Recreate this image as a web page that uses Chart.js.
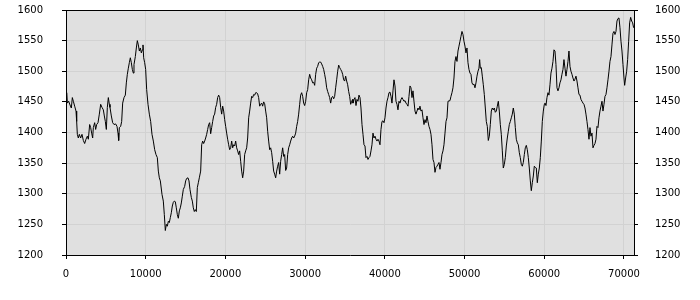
<!DOCTYPE html>
<html>
<head>
<meta charset="utf-8">
<script src="https://cdn.jsdelivr.net/npm/chart.js@4"></script>
<style>
  html, body { margin: 0; padding: 0; background: #fff; }
</style>
</head>
<body>
<canvas id="chart" width="700" height="300"></canvas>
<script>
// series
const xs = [
  0, 84, 167, 334, 502, 669, 795, 920, 1087, 1255, 1338, 1422, 1547, 1673, 1840, 2007, 2175, 2342, 2509, 2676,
  2802, 2969, 3095, 3220, 3346, 3429, 3597, 3722, 3847, 4015, 4182, 4349, 4516, 4684, 4809, 4935, 5060, 5186, 5311, 5437,
  5520, 5687, 5855, 6022, 6231, 6398, 6524, 6607, 6691, 6858, 6984, 7109, 7277, 7444, 7569, 7695, 7820, 7946, 8071, 8197,
  8322, 8448, 8531, 8698, 8824, 8949, 9075, 9200, 9326, 9451, 9577, 9660, 9744, 9869, 9995, 10120, 10288, 10455, 10622, 10789,
  10957, 11124, 11291, 11459, 11584, 11710, 11835,
  12043, 12210, 12336, 12461, 12587, 12712, 12838, 12963, 13088, 13214, 13339, 13465, 13590, 13716, 13841, 13967, 14092, 14218, 14343, 14468,
  14594, 14719, 14887, 15012, 15138, 15305, 15430, 15556, 15723, 15849, 15974, 16099, 16225, 16350, 16476, 16601, 16727, 16894, 17020, 17145,
  17270, 17396, 17521, 17647, 17772, 17898, 18023, 18149, 18274, 18400, 18525, 18650, 18776, 18901, 19027, 19152, 19278, 19403, 19529, 19654,
  19780, 19905, 20031, 20156, 20281, 20407, 20532, 20658, 20783, 20909, 21034, 21160, 21285, 21411, 21536, 21661, 21787, 21912, 22038, 22163,
  22289, 22414, 22540, 22665, 22791, 22916, 23042, 23167, 23292, 23418, 23543, 23669, 23794, 23920,
  24045, 24170, 24296, 24421, 24547, 24672, 24798, 24923, 25049, 25174, 25300, 25425, 25551, 25676, 25802, 25927, 26052, 26178, 26303, 26429,
  26554, 26680, 26805, 26931, 27056, 27182, 27307, 27432, 27558, 27683, 27809, 27934, 28060, 28185, 28311, 28436, 28562, 28687, 28813, 28938,
  29063, 29189, 29314, 29440, 29565, 29691, 29816, 29942, 30067, 30193, 30318, 30444, 30569, 30694, 30820, 30945, 31071, 31196, 31322, 31447,
  31573, 31698, 31824, 31949, 32074, 32200, 32325, 32451, 32576, 32702, 32827, 32953, 33078, 33204, 33329, 33455, 33580, 33705, 33831, 33956,
  34082, 34207, 34333, 34458, 34584, 34709, 34835, 34960, 35085, 35211, 35336, 35462, 35587, 35713, 35838, 35964,
  36004, 36130, 36255, 36381, 36506, 36632, 36757, 36883, 37008, 37134, 37259, 37385, 37510, 37635, 37761, 37886, 38012, 38137, 38263, 38388,
  38514, 38639, 38765, 38890, 39016, 39141, 39266, 39392, 39517, 39643, 39768, 39894, 40019, 40145, 40270, 40396, 40521, 40646, 40772, 40897,
  41023, 41148, 41274, 41399, 41525, 41650, 41776, 41901, 42027, 42152, 42277, 42403, 42528, 42654, 42779, 42905, 43030, 43156, 43281, 43407,
  43532, 43657, 43783, 43908, 44034, 44159, 44285, 44410, 44536, 44661, 44787, 44912, 45038, 45163, 45288, 45414, 45539, 45665, 45790, 45916,
  46041, 46167, 46292, 46418, 46543, 46668, 46794, 46919, 47045, 47170, 47296, 47421, 47547, 47672, 47798, 47923,
  48173, 48298, 48424, 48549, 48675, 48800, 48926, 49051, 49177, 49302, 49428, 49553, 49678, 49804, 49929, 50055, 50180, 50306, 50431, 50557,
  50682, 50808, 50933, 51059, 51184, 51309, 51435, 51560, 51686, 51811, 51895, 51979, 52104, 52229, 52355, 52480, 52606, 52731, 52857, 52982,
  53108, 53233, 53359, 53484, 53610, 53735, 53860, 53986, 54111, 54237, 54362, 54488, 54613, 54739, 54864, 54990, 55115, 55241, 55366, 55491,
  55617, 55742, 55868, 55993, 56119, 56244, 56370, 56495, 56621, 56746, 56872, 56997, 57122, 57248, 57373, 57499, 57624, 57750, 57875, 58001,
  58126, 58252, 58377, 58503, 58628, 58753, 58879, 59004, 59130, 59255, 59381, 59506, 59632, 59757, 59883, 60008,
  60090, 60216, 60341, 60467, 60592, 60718, 60843, 60969, 61094, 61220, 61345, 61470, 61596, 61721, 61847, 61972, 62098, 62223, 62349, 62474,
  62600, 62725, 62851, 62976, 63101, 63227, 63352, 63478, 63603, 63729, 63854, 63980, 64105, 64231, 64356, 64482, 64607, 64733, 64858, 64983,
  65109, 65234, 65360, 65485, 65611, 65736, 65862, 65987, 66113, 66238, 66364, 66489, 66614, 66740, 66865, 66991, 67116, 67242, 67367, 67493,
  67618, 67744, 67869, 67995, 68120, 68245, 68371, 68496, 68622, 68747, 68873, 68998, 69124, 69249, 69375, 69500, 69626, 69751, 69877, 70002,
  70086, 70211, 70337, 70462, 70588, 70713, 70839, 70964, 71090, 71215
];
const ys = [
  1450, 1465, 1448, 1451, 1445, 1440, 1457, 1451, 1443, 1435, 1418, 1397, 1391, 1397, 1391, 1397, 1387, 1382, 1389, 1394,
  1389, 1413, 1408, 1399, 1391, 1408, 1416, 1405, 1413, 1416, 1430, 1446, 1441, 1437, 1427, 1418, 1405, 1441, 1457, 1446,
  1441, 1427, 1416, 1413, 1414, 1410, 1399, 1387, 1408, 1410, 1418, 1448, 1457, 1461, 1481, 1495, 1505, 1514, 1522, 1514,
  1503, 1497, 1511, 1524, 1538, 1550, 1543, 1533, 1538, 1530, 1535, 1543, 1522, 1514, 1503, 1470, 1446, 1430, 1418, 1397,
  1386, 1372, 1364, 1359, 1337, 1326, 1321,
  1299, 1288, 1266, 1240, 1250, 1247, 1255, 1253, 1261, 1269, 1280, 1286, 1288, 1287, 1277, 1266, 1260, 1272, 1277, 1285,
  1296, 1307, 1312, 1321, 1325, 1326, 1321, 1307, 1294, 1288, 1277, 1271, 1274, 1271, 1310, 1318, 1326, 1337, 1380, 1386,
  1382, 1386, 1391, 1397, 1405, 1413, 1416, 1398, 1408, 1418, 1427, 1430, 1441, 1446, 1457, 1461, 1457, 1441, 1430, 1443,
  1435, 1421, 1410, 1399, 1389, 1380, 1372, 1375, 1386, 1375, 1380, 1378, 1386, 1375, 1370, 1364, 1370, 1353, 1337, 1326,
  1337, 1364, 1370, 1375, 1391, 1424, 1435, 1448, 1459, 1457, 1462, 1461, 1465, 1465,
  1463, 1457, 1443, 1446, 1448, 1443, 1450, 1447, 1435, 1424, 1402, 1386, 1372, 1375, 1367, 1353, 1337, 1332, 1326, 1337,
  1345, 1351, 1332, 1353, 1364, 1375, 1361, 1364, 1338, 1342, 1364, 1375, 1380, 1386, 1391, 1394, 1391, 1394, 1399, 1410,
  1418, 1430, 1446, 1461, 1465, 1459, 1448, 1444, 1451, 1465, 1470, 1486, 1495, 1489, 1486, 1481, 1482, 1477, 1495, 1505,
  1508, 1514, 1515, 1515, 1512, 1508, 1503, 1495, 1486, 1473, 1467, 1462, 1457, 1448, 1457, 1459, 1455, 1459, 1473, 1486,
  1500, 1510, 1506, 1503, 1500, 1495, 1486, 1484, 1492, 1484, 1478, 1467, 1459, 1446, 1451, 1454,
  1448, 1454, 1457, 1444, 1454, 1451, 1461, 1457, 1440, 1413, 1397, 1380, 1378, 1359, 1361, 1356, 1359, 1361, 1370, 1380,
  1399, 1391, 1394, 1389, 1386, 1389, 1386, 1380, 1405, 1418, 1419, 1416, 1424, 1440, 1451, 1457, 1465, 1466, 1459, 1448,
  1468, 1486, 1476, 1451, 1446, 1437, 1451, 1448, 1454, 1457, 1454, 1451, 1452, 1448, 1446, 1443, 1459, 1476, 1473, 1457,
  1468, 1451, 1435, 1430, 1435, 1440, 1437, 1443, 1435, 1437, 1424, 1413, 1421, 1416, 1427, 1418, 1410, 1405, 1397, 1380,
  1356, 1351, 1335, 1343, 1345, 1348, 1351, 1340, 1351, 1364, 1370, 1380, 1399, 1418, 1424, 1451,
  1452, 1459, 1465, 1473, 1489, 1516, 1524, 1516, 1533, 1541, 1549, 1557, 1565, 1560, 1549, 1541, 1530, 1538, 1514, 1503,
  1497, 1495, 1481, 1478, 1479, 1473, 1481, 1492, 1500, 1505, 1519, 1505, 1506, 1492, 1478, 1462, 1440, 1418, 1410, 1387,
  1394, 1413, 1435, 1440, 1437, 1440, 1433, 1435, 1443, 1451, 1435, 1413, 1397, 1370, 1342, 1348, 1359, 1378, 1391, 1402,
  1413, 1418, 1424, 1430, 1440, 1430, 1408, 1389, 1383, 1380, 1367, 1359, 1348, 1345, 1351, 1364, 1375, 1379, 1372, 1359,
  1342, 1321, 1305, 1318, 1329, 1345, 1343, 1342, 1318, 1332, 1342, 1359, 1386, 1418, 1435, 1446,
  1448, 1444, 1457, 1465, 1461, 1478, 1497, 1505, 1516, 1535, 1533, 1511, 1473, 1468, 1473, 1481, 1486, 1495, 1503, 1519,
  1505, 1492, 1503, 1516, 1533, 1508, 1500, 1495, 1489, 1484, 1487, 1492, 1484, 1473, 1462, 1461, 1454, 1451, 1448, 1446,
  1440, 1430, 1418, 1405, 1389, 1408, 1394, 1399, 1375, 1379, 1382, 1389, 1410, 1408, 1424, 1435, 1443, 1451, 1435, 1446,
  1459, 1462, 1473, 1486, 1500, 1516, 1524, 1543, 1562, 1565, 1560, 1565, 1582, 1586, 1587, 1571, 1549, 1533, 1511, 1489,
  1477, 1489, 1500, 1519, 1549, 1579, 1588, 1582, 1579, 1571
];

const xTicks = [0, 10000, 20000, 30000, 40000, 50000, 60000, 70000];
const yTicks = [1200, 1250, 1300, 1350, 1400, 1450, 1500, 1550, 1600];
const xMin = 0;
const xMax = 71260;

Chart.defaults.font.family = "'DejaVu Sans', sans-serif";
Chart.defaults.font.size = 10;
Chart.defaults.color = "#000";

const plotBox = {
  id: "plotBox",
  beforeDraw(chart) {
    const { ctx, chartArea: a } = chart;
    ctx.save();
    ctx.fillStyle = "#e0e0e0";
    ctx.fillRect(a.left, a.top, a.right - a.left, a.bottom - a.top);
    ctx.restore();
  },
  afterDraw(chart) {
    const { ctx, chartArea: a } = chart;
    ctx.save();
    ctx.strokeStyle = "#000";
    ctx.lineWidth = 1;
    ctx.beginPath();
    ctx.moveTo(a.left, Math.round(a.top) + 0.5);
    ctx.lineTo(a.right, Math.round(a.top) + 0.5);
    ctx.stroke();
    ctx.restore();
  }
};

const points = xs.map((x, i) => ({ x: x, y: ys[i] }));
const setTicks = (list) => (s) => { s.ticks = list.map((v) => ({ value: v })); };
const yFit = (s) => { s.width = 66; s.paddingTop = 0; s.paddingBottom = 0; };

new Chart(document.getElementById("chart"), {
  type: "line",
  data: {
    datasets: [{
      data: points,
      borderColor: "#000",
      borderWidth: 1,
      pointRadius: 0,
      tension: 0,
      fill: false
    }]
  },
  options: {
    responsive: false,
    animation: false,
    layout: { padding: { top: 10, left: 0, right: 0, bottom: 0 } },
    plugins: { legend: { display: false }, tooltip: { enabled: false } },
    scales: {
      x: {
        type: "linear",
        min: xMin,
        max: xMax,
        afterBuildTicks: setTicks(xTicks),
        afterFit: (s) => { s.height = 45; s.paddingLeft = 0; s.paddingRight = 0; },
        border: { color: "#000" },
        grid: { color: "#d2d2d2", tickColor: "#000", tickLength: 4 },
        ticks: { maxRotation: 0, autoSkip: false, padding: 9, callback: (v) => String(v) }
      },
      y: {
        position: "left",
        min: yTicks[0],
        max: yTicks[yTicks.length - 1],
        afterBuildTicks: setTicks(yTicks),
        afterFit: yFit,
        border: { color: "#000" },
        grid: { color: "#d2d2d2", tickColor: "#000", tickLength: 4 },
        ticks: { padding: 19, autoSkip: false, callback: (v) => String(v) }
      },
      y2: {
        position: "right",
        min: yTicks[0],
        max: yTicks[yTicks.length - 1],
        afterBuildTicks: setTicks(yTicks),
        afterFit: yFit,
        border: { color: "#000" },
        grid: { drawOnChartArea: false, tickColor: "#000", tickLength: 4 },
        ticks: { padding: 17, autoSkip: false, callback: (v) => String(v) }
      }
    }
  },
  plugins: [plotBox]
});
</script>
</body>
</html>
